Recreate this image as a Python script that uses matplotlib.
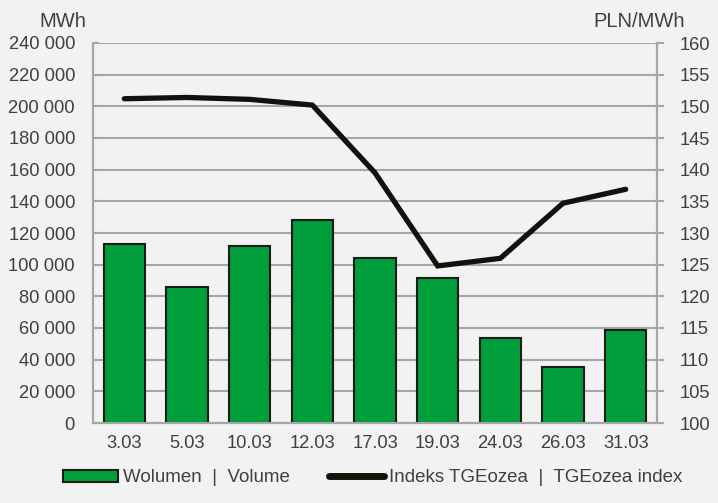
import matplotlib
matplotlib.use("Agg")
import matplotlib.pyplot as plt
from matplotlib.patches import Patch
from matplotlib.lines import Line2D
from matplotlib.ticker import FuncFormatter

dates = ["3.03", "5.03", "10.03", "12.03", "17.03", "19.03", "24.03", "26.03", "31.03"]
volume = [113000, 86000, 111500, 128500, 104200, 91800, 53800, 35500, 59000]
index_tge = [151.2, 151.4, 151.1, 150.2, 139.5, 124.8, 126.0, 134.7, 136.9]
vol_ticks = list(range(0, 240001, 20000))
idx_ticks = list(range(100, 161, 5))

plt.rcParams['font.family'] = ['Liberation Sans', 'DejaVu Sans']
bg = '#f2f2f2'
grid_c = '#a6a6a6'
text_c = '#404040'
green = '#009e3a'
line_c = '#12120d'

fig = plt.figure(figsize=(7.18, 5.03), dpi=100, facecolor=bg)
ax = fig.add_axes([93/718, 80/503, (657-93)/718, (423-43)/503])
ax.set_facecolor(bg)
ax2 = ax.twinx()

x = list(range(len(dates)))
ax.bar(x, volume, width=0.655, color=green, edgecolor='#1a1a1a', linewidth=1.5, zorder=3)
ax.set_ylim(0, 240000)
ax.set_xlim(-0.5, len(dates) - 0.5)
ax.set_yticks(vol_ticks)
ax.yaxis.set_major_formatter(FuncFormatter(lambda v, p: f"{int(v):,}".replace(",", " ")))
ax.set_xticks(x)
ax.set_xticklabels(dates)
ax.grid(axis='y', color=grid_c, linewidth=1.5, zorder=0)
ax.set_axisbelow(True)

ax2.plot(x, index_tge, color=line_c, linewidth=3.8, solid_capstyle='round', solid_joinstyle='miter', zorder=4)
ax2.set_ylim(100, 160)
ax2.set_yticks(idx_ticks)

for a in (ax, ax2):
    for s in a.spines.values():
        s.set_color(grid_c)
        s.set_linewidth(1.5)
    a.spines['top'].set_visible(False)

fs = 13.2
ax.tick_params(axis='y', colors=grid_c, labelcolor=text_c, labelsize=fs, length=4, width=1.5, direction='in', pad=13)
ax.tick_params(axis='x', length=0, labelcolor=text_c, labelsize=fs, pad=9)
ax2.tick_params(axis='y', colors=grid_c, labelcolor=text_c, labelsize=fs, length=5, width=1.5, direction='out', pad=11)

fig.text(63/718, 1 - 27/503, "MWh", ha='center', va='baseline', fontsize=14.5, color=text_c)
fig.text(685/718, 1 - 27/503, "PLN/MWh", ha='right', va='baseline', fontsize=14.5, color=text_c)

handles = [Patch(facecolor=green, edgecolor='#1a1a1a', linewidth=1.5),
           Line2D([0], [0], color=line_c, linewidth=5, solid_capstyle='round')]
labels = ["Wolumen  |  Volume", "Indeks TGEozea  |  TGEozea index"]
leg = fig.legend(handles, labels, loc='center', bbox_to_anchor=(373/718, 1 - 478/503), ncol=2,
                 frameon=False, fontsize=13.5, handlelength=2.9, handleheight=0.55,
                 handletextpad=0.3, columnspacing=2.1, labelcolor=text_c)

fig.savefig("out.png", dpi=100, facecolor=bg)
